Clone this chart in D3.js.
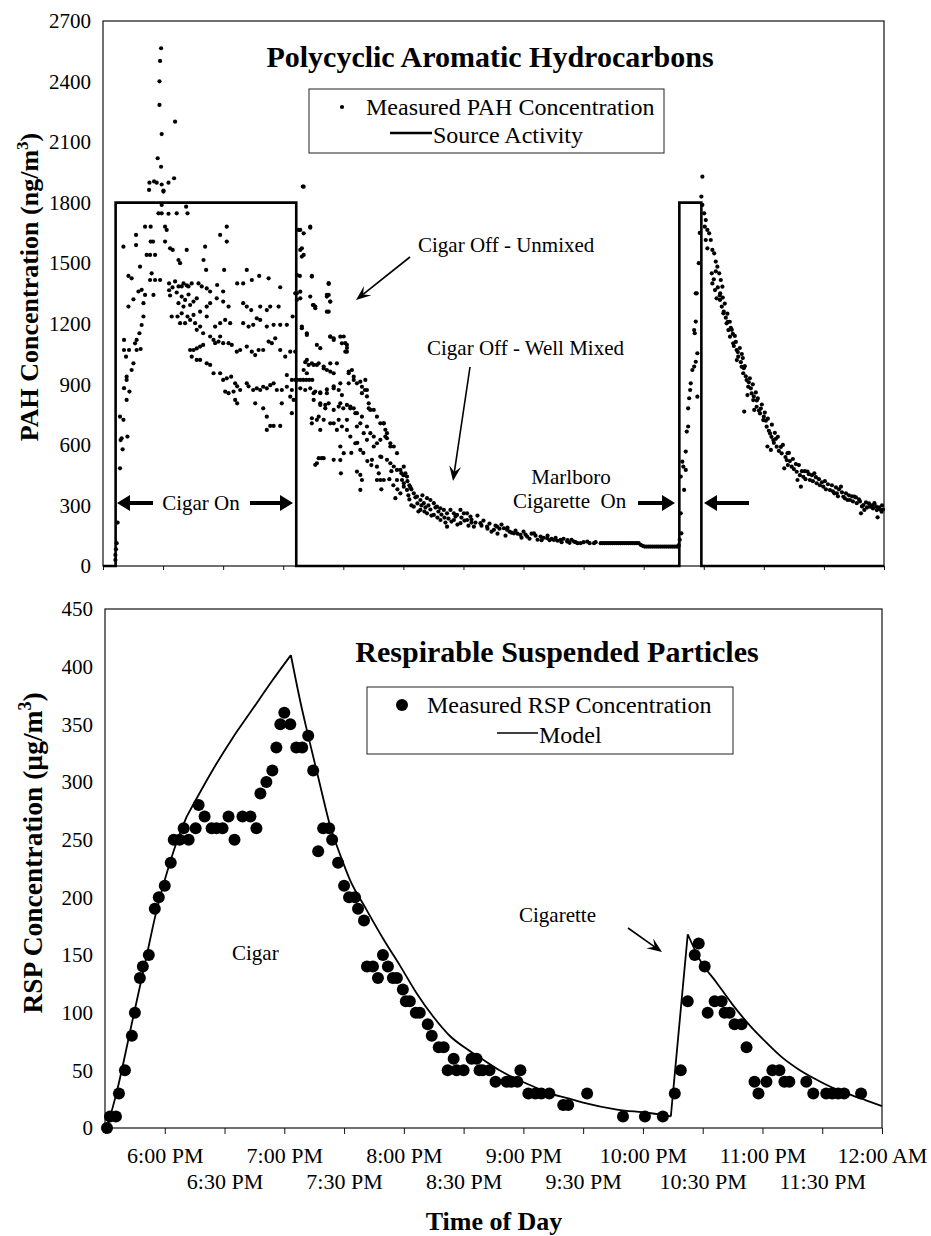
<!DOCTYPE html>
<html>
<head>
<meta charset="utf-8">
<script src="https://cdn.jsdelivr.net/npm/d3@7"></script>
<style>
  body { margin: 0; background: #fff; }
  svg { display: block; }
</style>
</head>
<body>
<svg id="chart" width="931" height="1236"></svg>
<script>
// Time is given in minutes after 5:30 PM.
const timeTicks = [0, 30, 60, 90, 120, 150, 180, 210, 240, 270, 300, 330, 360, 390];
const hourTickMinutes = [30, 90, 150, 210, 270, 330, 390];
const hourTickLabels = ["6:00 PM", "7:00 PM", "8:00 PM", "9:00 PM", "10:00 PM", "11:00 PM", "12:00 AM"];
const halfTickMinutes = [60, 120, 180, 240, 300, 360];
const halfTickLabels = ["6:30 PM", "7:30 PM", "8:30 PM", "9:30 PM", "10:30 PM", "11:30 PM"];

const pahTicks = [0, 300, 600, 900, 1200, 1500, 1800, 2100, 2400, 2700];
const rspTicks = [0, 50, 100, 150, 200, 250, 300, 350, 400, 450];

// Source activity (step): cigar, then cigarette
const sourceMinute = [0, 6.3, 6.3, 96.5, 96.5, 287.8, 287.8, 298.8, 298.8, 390];
const sourceValue  = [0, 0, 1800, 1800, 0, 0, 1800, 1800, 0, 0];

// Measured PAH concentration [minute, ng/m3] while the cigar is lit
const pahCigarOn = [
 [6.2,30],[6.2,55],[6.5,83],[6.8,113],[7.3,215],[8.5,484],[8.8,624],[9.3,633],[9.8,578],[12.2,641],
 [8.5,740],[10.2,724],[11.8,823],[10.5,881],[13.2,864],[11.8,938],[11.8,922],[15.2,1004],[14.3,971],[11.5,1037],
 [10.5,1070],[13,1070],[16.8,1070],[18.8,1075],[10.5,1120],[16.8,1120],[16,1103],[18.2,1153],[19.3,1194],[20.2,1236],
 [12.7,1285],[15.2,1321],[17.7,1360],[19.3,1368],[21,1343],[20.2,1302],[12.7,1437],[14.3,1425],[18.5,1483],[23.5,1417],
 [24.3,1450],[25.2,1343],[21.8,1541],[23.5,1541],[26,1541],[10.2,1582],[16.5,1640],[16.5,1590],[21,1681],[23.8,1681],
 [23.8,1607],[25,1607],
 [23.2,1899],[25.5,1905],[29.3,1890],[30.2,1860],[32.7,1899],[35.5,1921],[29.3,1789],[27.7,1747],[29.3,1747],[32.7,1745],
 [36.8,1747],[41.5,1780],[42.2,1747],[31,1681],[31.8,1665],[31,1607],[33.5,1574],[34.8,1566],[41.8,1566],[37.7,1516],
 [38.5,1500],[50.2,1516],[51.5,1467],[58.5,1640],[61.8,1681],[61.8,1607],[51,1582],[60.5,1467],
 [26.8,1899],[27.3,2020],[28.2,2284],[28.2,2401],[28.5,2502],[29,2565],[29.3,2140],[29,1978],[36,2201],[23,1863],
 [30.2,1855],
 [26,1417],[28.5,1417],[33,1400],[34.7,1380],[36,1410],[37.7,1385],[39.3,1385],[40.2,1400],[41.8,1390],[42.7,1385],
 [44.3,1400],[47.7,1400],[49.3,1385],[51.8,1375],[53.5,1360],[57,1392],[60,1360],[67,1400],[70,1400],[71.8,1467],
 [74.3,1417],[78,1437],[82.7,1425],[88.5,1381],[33,1366],[33.5,1340],[36.8,1355],[39.3,1335],[42.7,1345],[37.7,1302],
 [40.2,1285],[41,1318],[43.5,1293],[45.2,1310],[46.8,1326],[37.2,1236],[39.3,1252],[42.2,1236],[45.2,1244],[48.5,1260],
 [51.8,1285],[53.5,1302],[56.8,1326],[60,1310],[62.7,1285],[70,1302],[71.8,1285],[74,1268],[78.5,1285],[81.8,1268],
 [83.5,1285],[87.7,1285],[94.7,1236],[34.3,1236],[38.5,1203],[41,1203],[43.5,1219],[46,1203],[48.5,1186],[46.8,1170],
 [50,1153],[51.8,1236],[56,1186],[58.5,1203],[61,1219],[63.5,1203],[70,1203],[72.7,1186],[75,1195],[76.8,1227],
 [78.5,1219],[81.8,1186],[85.2,1195],[88.5,1195],[91.8,1195],[53.5,1137],[55.2,1120],[56,1104],[57.7,1112],[58.5,1137],
 [60,1104],[43.5,1070],[45.2,1070],[46.8,1078],[48.5,1087],[50,1095],[44.3,1037],[46.8,1021],[62.7,1104],[64.3,1095],
 [66.8,1062],[68.5,1070],[71.8,1087],[74.3,1062],[76,1045],[77.7,1070],[80,1070],[82.7,1112],[84.3,1104],[86,1128],
 [88.5,1070],[91,1037],[93.5,1062],[96,1062],
 [48.5,1021],[51.8,1004],[53.5,996],[55.2,955],[58.5,955],[60,922],[61.8,930],[64,938],[66,905],[68.5,872],
 [71.8,905],[61,864],[62.7,856],[65.2,864],[67,890],[66,823],[67,806],[72.7,890],[75,872],[76.8,880],
 [78.5,872],[80,888],[81.8,880],[83.5,896],[85.2,905],[86.8,872],[89.3,872],[91.8,888],[94.3,872],[76,806],
 [80,781],[81.8,740],[83.5,694],[85.2,694],[88.5,694],[81.8,674],[89.3,806],[93.5,839],[95.2,823],[94.3,757],
 [91.8,946],[94.3,922],[96,922]
];

// Measured PAH concentration after the cigar is put out
const pahCigarOff = [
 [97,922],[98.5,922],[100,922],[101.5,922],[103,922],[104.5,922],[99.8,1880],[98.5,1665],[100.2,1648],[103.5,1681],
 [98.5,1566],[99.3,1533],[96.8,1442],[98.3,1437],[96.8,1351],[98.5,1326],[104.3,1434],[103.5,1335],[105.2,1293],[106,1277],
 [112.7,1401],[111.8,1335],[113.5,1310],[111.8,1260],[99.3,1186],[101.8,1145],[106.8,1095],[108.5,1079],[113.5,1137],[115.2,1120],
 [120.2,1137],[121,1104],[121.8,1080],[121.8,1062],[101,1010],[102.7,996],[105.2,996],[107.7,1004],[110.2,988],[111.8,971],
 [113.5,963],[115.2,955],[122.7,955],[125.2,938],[125.2,922],[126.8,905],[129.3,888],[130.8,872],[100.2,971],[101.8,955],
 [98.5,880],[101,872],[103.5,880],[106,864],[108.5,860],[111.8,875],[115.2,890],[118.5,905],[105.2,823],[108.5,806],
 [111,781],[118.5,806],[120,781],[123.5,781],[126,757],[131.8,840],[132.7,806],[135.2,773],[136.8,740],[140.2,707],
 [141,675],[104.3,707],[107.7,740],[108.5,674],[115.2,707],[116.8,674],[121.8,724],[126.8,691],[130.2,658],[131.8,625],
 [135.2,592],[118.5,592],[120.2,559],[106.8,509],[109.2,534],[115.2,526],[126,608],[128.5,575],[138.5,542],[141.8,526],
 [143.5,509],[145.2,493],[136.8,608],[138.5,625],[141,641],[143.5,592],[134.3,526],
 [126.8,468],[128.5,451],[128.5,377],[129.3,426],[136.8,492],[136.8,426],[137.7,459],[138.5,426],[140.2,426],[146,336],
 [146.8,559],[146.8,476],[146.8,426],[148.5,476],[148.5,360],[149.3,426],[150.2,492],[150.2,410],[150.2,393],[151,459],
 [151.8,443],[151.8,377],[143.5,608],[145.2,592],[141.8,658],[141.8,633],[143,430],[145,400],[147,380],[139,380],
 [144,470],[149,460],[152,420],[153,400],[154,380],[150,450],[118.8,459],[118.5,525],[106,501],[107.7,534],
 [110.2,534],[133.5,658],[135.2,641],[132,520],[134,500],[139,540],[130,560],[124,560],[127,610],[123.5,641],
 [121.8,674],
 [104.8,1293],[106,1285],[111.8,1343],[112.7,1397],[112.7,1343],[112.7,1260],[113.5,1310],[113.5,1136],[115.2,1128],[118.5,1136],
 [119.3,1103],[121.8,1095],[121,1062],[116.8,1004],[113.5,1004],[110.2,979],[124.3,971],[122.7,963],[122.7,905],[128.5,913],
 [131,922],[131.8,872],[129.3,856],[117.7,872],[119.3,847],[115.2,880],[108.5,856],[105.2,856],[111.8,856],[108.5,798],
 [111,798],[112.7,806],[115.2,773],[117.7,790],[121.8,798],[123.5,790],[125.2,781],[126.8,757],[129.3,740],[132.7,781],
 [133.5,773],[104.3,732],[106.8,724],[110.2,724],[113.5,707],[117.7,724],[119.3,691],[128.5,707],[131.8,691],[138.5,707],
 [140.2,707],[100.2,1879],[97.7,1665],[99.3,1574],[100.2,1541],[103.5,1676],[96,1351],[96.8,1318],[98.5,1359],[104.3,1437],
 [101.8,1153],[99.3,1178],[101.8,1021],[104.3,1004],[106.8,996],
 [152.5,350],[153,330],[153.5,390],[154,300],[155.2,360],[155.2,294],[156,340],[156.8,344],[157,310],[157.5,270],
 [158.5,327],[158.5,278],[159,300],[159.5,350],[160.2,311],[160.5,270],[161,290],[161.8,336],[161.8,261],[162.5,300],
 [163.5,327],[163.5,280],[164,250],[165.2,311],[165.2,253],[166,290],[166.8,294],[167,240],[167.5,270],[168.5,286],
 [168.5,228],[169,255],[170.2,278],[170.5,240],[171,215],[171.8,261],[171.8,195],[172.5,235],[173.5,278],[174,220],
 [175.2,261],[175.2,228],[176,245],[176.8,253],[177,205],[178.5,278],[178.5,212],[179,240],[180.2,261],[180.5,225],
 [181.8,261],[181.8,228],[182.5,200],[183.5,245],[184,215],[184,230],[185.2,195],[186,215],[187,250],[188.5,212],
 [189,200],[190,225],[191.8,195],[192,185],[193,210],[194,170],[195.2,179],[196,200],[196.8,195],[197,160],
 [198,185],[200.2,187],[201,150],[201.8,179],[202,190],[204,165],[205.2,162],[206,175],[208.5,154],[209,140],
 [210,170],[211.8,146],[213,135],[214,160],[215.2,162],[217,130],[218.5,146],[220,140],[221.8,138],[222,150],
 [224,135],[225.2,129],[226,140],[228.5,129],[229,118],[230,135],[231.8,121],[233,115],[234,130],[235.2,121],
 [237,113],[238.5,113],[240,118],[241.8,121],[243,113],[245.2,113],[246,118],[248.5,113],[249.5,113],[250.5,113],
 [251.5,113],[252.5,113],[253.5,113],[254.5,113],[255.5,113],[256.5,113],[257.5,113],[258.5,113],[259.5,113],[260.5,113],
 [261.5,113],[262.5,113],[263.5,113],[264.5,113],[265.5,113],[266.5,113],[267.5,113],[268.5,105],[269.5,100],[270.5,96],
 [271.5,96],[272.5,96],[273.5,96],[274.5,96],[275.5,96],[276.5,96],[277.5,96],[278.5,96],[279.5,96],[280.5,96],
 [281.5,96],[282.5,96],[283.5,96],[284.5,96],[285.5,96],[286.5,96],[287.3,96],
 [199,205],[203,170],[207,160],[211,155],[216,150],[219,128],[223,128],[227,125],[232,128],[236,118]
];

// Measured PAH concentration during and after the cigarette
const pahCigarette = [
 [287.5,104],[288,130],[288.5,261],[288.5,443],[288.8,162],[289.3,517],[289.8,492],[290.2,377],[291,567],[291,476],
 [291.5,666],[292.2,691],[292.2,781],[292.7,831],[293.2,872],[293.5,905],[294.3,971],[295.2,988],[295.2,1169],[295.5,1153],
 [296,1012],[296,1211],[296,1351],[296.5,1351],[296.8,1054],[296.8,839],[297.5,1500],[298,1650],[298.8,1830],[299.3,1929],
 [299.3,1789],[300.2,1747],[300.5,1681],[301,1714],[301,1615],[301.8,1665],[301.8,1574],[302.7,1648],[303.5,1615],[304.3,1566],
 [304.3,1400],[305.2,1549],[305.6,1367],[306,1508],[306.4,1326],[306.8,1483],[307.7,1450],[308.1,1318],[308.2,1351],[308.5,1417],
 [309,1285],[309.3,1384],[309.8,1252],[310.5,1300],[311.4,1202],[311.8,1250],[312.3,1169],[313,1210],[313.1,1136],[314,1170],
 [314.7,1103],[315.5,1140],[316.4,1070],[316.5,1020],[317.2,1037],[318,1080],[318.9,987],[319.5,1030],[319.7,955],[320.2,765],
 [320.5,990],[321.4,921],[321.8,847],[322.2,888],[323,930],[323.9,855],[324.5,900],[324.7,822],[325.2,773],[326,860],
 [326.4,789],[327,830],[328.1,756],[329,800],[329.7,723],[330.5,760],[331.4,690],[331.8,592],[332,730],[333.1,657],
 [333.5,575],[334,700],[334.7,624],[335.5,660],[336.4,591],[337,640],[338.9,558],[339.5,600],[340.2,484],[341.4,525],
 [341.8,559],[342.5,560],[343.9,492],[344.5,530],[346.4,467],[346.8,426],[347.5,500],[348.5,393],[349.7,442],[350.5,470],
 [351.8,468],[353,426],[354,450],[355.2,459],[356.4,410],[357.5,430],[359.7,393],[360.5,420],[363,376],[364,400],
 [365.2,360],[366.4,360],[367.5,380],[368.5,393],[369.7,343],[371,360],[371.8,327],[373,327],[374,345],[375.2,344],
 [376.4,311],[377.5,330],[378.5,261],[379.7,302],[381,315],[380.2,278],[383,294],[384,300],[385.2,311],[386.4,277],
 [386.8,241],[387.5,290],[388.8,269],[389.5,280],
 [304,1450],[305,1420],[306,1460],[307,1380],[308,1340],[309.5,1330],[310,1260],[311,1230],[312,1210],[313.5,1180],
 [314.5,1150],[315,1090],[316,1110],[317,1060],[318.5,1010],[319,1050],[320,980],[321,940],[322.5,910],[323.5,880],
 [325,840],[326.5,820],[327.5,770],[328.5,780],[330,740],[331,720],[332.5,670],[333.8,640],[335,610],[336,630],
 [337.5,570],[338.5,590],[340.8,540],[342,500],[343,520],[345,480],[346,505],[348,450],[349,470],[350.8,430],
 [352.5,455],[354.5,420],[356,440],[358,400],[359,415],[361,380],[362,405],[364.5,370],[366,390],[367,345],
 [369,365],[370.5,335],[372.5,350],[374.5,320],[376,340],[378,320],[379,295],[381.5,290],[382.5,310],[384.5,285],
 [386,295],[388,280],[389,300]
];

// Measured RSP concentration (ug/m3)
const rspMinute = [1,2.5,5.5,7,10,13.5,15,17.5,19,22, 25,27,30,33,34.5,37.5,39.5,42,45.5,47,
  50,53.5,56,59,62,65,69,73,76,78, 81,84,86,88,90,93,96,99,102,104.5,
  107,109.5,112.5,114,117,120,122.5,125.5,127,130, 131.5,134.5,137,139.5,142,144.5,146.5,149.5,151,153,
  156,158,162,164,167.5,170,172,175,176.5,180, 184,186.5,188,189.5,193,196,201.5,204,207,208.5,
  212.5,216,219,223,230,232.5,242,260,271,280, 286,289,292.5,296,298,301,302.5,306,309.5,311,
  313.5,316,319.5,322,326,328,332,335,338.5,341, 343.5,352,355.5,362,365,368,371,379.5];
const rspValue = [0,10,10,30,50,80,100,130,140,150, 190,200,210,230,250,250,260,250,260,280,
  270,260,260,260,270,250,270,270,260,290, 300,310,330,350,360,350,330,330,340,310,
  240,260,260,250,230,210,200,200,190,180, 140,140,130,150,140,130,130,120,110,110,
  100,100,90,80,70,70,50,60,50,50, 60,60,50,50,50,40,40,40,40,50,
  30,30,30,30,20,20,30,10,10,10, 30,50,110,150,160,140,100,110,110,100,
  100,90,90,70,40,30,40,50,50,40, 40,40,30,30,30,30,30,30];

// Model curve for RSP; pieces meet at the corners listed in modelCorners
const modelMinute = [1,6,14,21,25,30,36,41,48,56,64,74,84,93.3,98,102,108,113,118,123,131,140,148,156,165,173,182,190,198,207,215,223,232,240,257,273,284,292.5,298.5,307,315,323.6,332,340,348,357,365,374,382,390];
const modelValue  = [0,32,95,150,182,215,248,270,292,316,338,363,388,410,370,340,297,262,237,215,190,163,141,118,96,80,68,59,50,42,36,30,26,22,16,13,10,168,146,126,107,89,74,61,51,42,35,29,24,19];
const modelCorners = [41, 93.3, 284, 292.5];

const FONT = "'Liberation Serif','Times New Roman',Times,serif";
const svg = d3.select("#chart");

// ---------- scales ----------
const xTop = d3.scaleLinear().domain([0, 390]).range([103, 884]);
const yTop = d3.scaleLinear().domain([0, 2700]).range([566, 21]);
const xBot = d3.scaleLinear().domain([0, 390]).range([105, 882]);
const yBot = d3.scaleLinear().domain([0, 450]).range([1128, 609]);

function frame(x, y) {
  svg.append("rect")
    .attr("x", x.range()[0]).attr("y", y.range()[1])
    .attr("width", x.range()[1] - x.range()[0])
    .attr("height", y.range()[0] - y.range()[1])
    .attr("fill", "none").attr("stroke", "#111").attr("stroke-width", 1.2);
}

function styleAxis(g, size) {
  g.attr("font-family", FONT).attr("font-size", size);
  g.select(".domain").remove();
  g.selectAll("line").attr("stroke", "#111");
  g.selectAll("text").attr("fill", "#000");
}

// ---------- top panel: PAH ----------
frame(xTop, yTop);
svg.append("g").attr("transform", `translate(${xTop.range()[0]},0)`)
  .call(d3.axisLeft(yTop).tickValues(pahTicks).tickSize(0).tickPadding(12).tickFormat(d3.format("d")))
  .call(g => styleAxis(g, 21));
svg.append("g").attr("transform", `translate(0,${yTop.range()[0]})`)
  .call(d3.axisBottom(xTop).tickValues(timeTicks).tickSize(4).tickFormat(""))
  .call(g => styleAxis(g, 21));

const allPah = pahCigarOn.concat(pahCigarOff, pahCigarette);
svg.append("g").selectAll("circle").data(allPah).join("circle")
  .attr("cx", d => xTop(d[0])).attr("cy", d => yTop(d[1]))
  .attr("r", 2.1).attr("fill", "#000");

const sourceLine = d3.line().x(d => xTop(d[0])).y(d => yTop(d[1]));
svg.append("path")
  .attr("d", sourceLine(sourceMinute.map((m, i) => [m, sourceValue[i]])))
  .attr("fill", "none").attr("stroke", "#000").attr("stroke-width", 2.6)
  .attr("stroke-linejoin", "miter");

// titles & legend (top)
svg.append("text").attr("x", 490).attr("y", 67).attr("text-anchor", "middle")
  .attr("font-family", FONT).attr("font-size", 30).attr("font-weight", "bold")
  .text("Polycyclic Aromatic Hydrocarbons");
svg.append("rect").attr("x", 309).attr("y", 89).attr("width", 355).attr("height", 64)
  .attr("fill", "#fff").attr("stroke", "#222").attr("stroke-width", 1);
svg.append("circle").attr("cx", 342).attr("cy", 107).attr("r", 2.1).attr("fill", "#000");
svg.append("text").attr("x", 366).attr("y", 115).attr("font-family", FONT).attr("font-size", 24)
  .text("Measured PAH Concentration");
svg.append("line").attr("x1", 390).attr("x2", 432).attr("y1", 133).attr("y2", 133)
  .attr("stroke", "#000").attr("stroke-width", 2.4);
svg.append("text").attr("x", 433).attr("y", 143).attr("font-family", FONT).attr("font-size", 24)
  .text("Source Activity");

// y label (top)
const yl1 = svg.append("text").attr("transform", "translate(38,287) rotate(-90)")
  .attr("text-anchor", "middle").attr("font-family", FONT).attr("font-size", 26).attr("font-weight", "bold");
yl1.append("tspan").text("PAH Concentration (ng/m");
yl1.append("tspan").attr("font-size", 17).attr("dy", -10).text("3");
yl1.append("tspan").attr("dy", 10).text(")");

// ---------- annotation helpers ----------
function blockArrow(xTail, xTip, y) {
  const dir = xTip > xTail ? 1 : -1, hl = 13, hw = 8, sw = 2;
  const xb = xTip - dir * hl;
  const pts = [[xTail, y - sw], [xb, y - sw], [xb, y - hw], [xTip, y], [xb, y + hw], [xb, y + sw], [xTail, y + sw]];
  svg.append("path").attr("d", "M" + pts.join("L") + "Z").attr("fill", "#000");
}
function thinArrow(x1, y1, x2, y2) {
  const a = Math.atan2(y2 - y1, x2 - x1), hl = 15, hw = 6;
  const bx = x2 - hl * Math.cos(a), by = y2 - hl * Math.sin(a);
  const nx = x2 - hl * 0.6 * Math.cos(a), ny = y2 - hl * 0.6 * Math.sin(a);
  svg.append("line").attr("x1", x1).attr("y1", y1).attr("x2", nx).attr("y2", ny)
    .attr("stroke", "#000").attr("stroke-width", 1.6);
  const p1 = [bx - hw * Math.sin(a), by + hw * Math.cos(a)];
  const p2 = [bx + hw * Math.sin(a), by - hw * Math.cos(a)];
  svg.append("path").attr("d", `M${x2},${y2}L${p1}L${nx},${ny}L${p2}Z`).attr("fill", "#000");
}
function label(x, y, txt, anchor) {
  svg.append("text").attr("x", x).attr("y", y).attr("text-anchor", anchor || "start")
    .attr("font-family", FONT).attr("font-size", 21).text(txt);
}

// top annotations
blockArrow(153, 117, 503);
label(201, 510, "Cigar On", "middle");
blockArrow(250, 293, 503);
label(418, 252, "Cigar Off - Unmixed");
thinArrow(410, 257, 356, 300);
label(427, 355, "Cigar Off - Well Mixed");
thinArrow(470, 367, 453, 481);
label(571, 484, "Marlboro", "middle");
label(513, 508, "Cigarette\u00a0\u00a0On");
blockArrow(638, 675, 503);
blockArrow(749, 704, 503);

// ---------- bottom panel: RSP ----------
frame(xBot, yBot);
svg.append("g").attr("transform", `translate(${xBot.range()[0]},0)`)
  .call(d3.axisLeft(yBot).tickValues(rspTicks).tickSize(0).tickPadding(12).tickFormat(d3.format("d")))
  .call(g => styleAxis(g, 21));

const tickText = d => {
  let i = hourTickMinutes.indexOf(d);
  if (i >= 0) return hourTickLabels[i];
  i = halfTickMinutes.indexOf(d);
  return i >= 0 ? halfTickLabels[i] : "";
};
svg.append("g").attr("transform", `translate(0,${yBot.range()[0]})`)
  .call(d3.axisBottom(xBot).tickValues(timeTicks).tickSize(6).tickFormat(tickText))
  .call(g => styleAxis(g, 22))
  .call(g => g.selectAll("text")
    .attr("dy", 0)
    .attr("y", d => hourTickMinutes.includes(d) ? 35 : 61));

// model drawn as smooth pieces joined at sharp corners
const modelPts = modelMinute.map((m, i) => [m, modelValue[i]]);
const cuts = [modelMinute[0], ...modelCorners, modelMinute[modelMinute.length - 1]];
const modelLine = d3.line().x(d => xBot(d[0])).y(d => yBot(d[1])).curve(d3.curveMonotoneX);
const modelPieces = d3.pairs(cuts).map(([a, b]) => modelPts.filter(p => p[0] >= a && p[0] <= b));
svg.append("path")
  .attr("d", modelPieces.map(p => modelLine(p)).join(""))
  .attr("fill", "none").attr("stroke", "#000").attr("stroke-width", 1.8);

svg.append("g").selectAll("circle").data(rspMinute.map((m, i) => [m, rspValue[i]])).join("circle")
  .attr("cx", d => xBot(d[0])).attr("cy", d => yBot(d[1]))
  .attr("r", 6).attr("fill", "#000");

svg.append("text").attr("x", 557).attr("y", 662).attr("text-anchor", "middle")
  .attr("font-family", FONT).attr("font-size", 30).attr("font-weight", "bold")
  .text("Respirable Suspended Particles");
svg.append("rect").attr("x", 367).attr("y", 687).attr("width", 366).attr("height", 67)
  .attr("fill", "#fff").attr("stroke", "#222").attr("stroke-width", 1);
svg.append("circle").attr("cx", 402).attr("cy", 705).attr("r", 6).attr("fill", "#000");
svg.append("text").attr("x", 427).attr("y", 713).attr("font-family", FONT).attr("font-size", 24)
  .text("Measured RSP Concentration");
svg.append("line").attr("x1", 497).attr("x2", 538).attr("y1", 733).attr("y2", 733)
  .attr("stroke", "#000").attr("stroke-width", 1.6);
svg.append("text").attr("x", 539).attr("y", 743).attr("font-family", FONT).attr("font-size", 24)
  .text("Model");

const yl2 = svg.append("text").attr("transform", "translate(42,853) rotate(-90)")
  .attr("text-anchor", "middle").attr("font-family", FONT).attr("font-size", 27.5).attr("font-weight", "bold");
yl2.append("tspan").text("RSP Concentration (\u00b5g/m");
yl2.append("tspan").attr("font-size", 18).attr("dy", -11).text("3");
yl2.append("tspan").attr("dy", 11).text(")");

label(232, 960, "Cigar");
label(519, 922, "Cigarette");
thinArrow(628, 928, 662, 952);

svg.append("text").attr("x", 494).attr("y", 1230).attr("text-anchor", "middle")
  .attr("font-family", FONT).attr("font-size", 26).attr("font-weight", "bold")
  .text("Time of Day");
</script>
</body>
</html>
